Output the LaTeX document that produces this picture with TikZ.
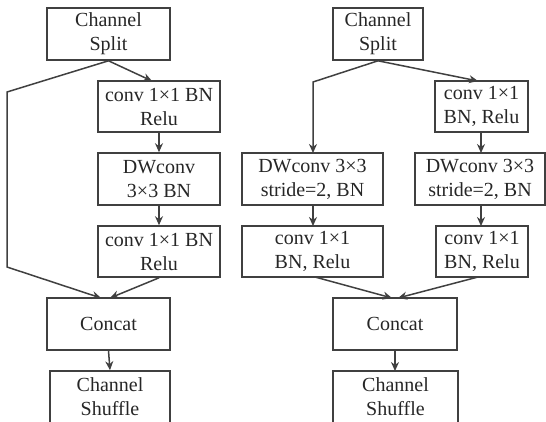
\documentclass[tikz,border=0pt]{standalone}
\usepackage{fontspec}
\setmainfont{Liberation Serif}
\usetikzlibrary{arrows.meta}
\definecolor{linec}{HTML}{404040}
\definecolor{textc}{HTML}{262626}
\tikzset{
  box/.style={draw=linec, line width=1.6pt, rectangle, inner sep=0pt, align=center,
    text=textc, font=\fontsize{20}{24}\selectfont},
  arr/.style={draw=linec, line width=1.5pt, -{Stealth[length=9pt,width=8pt]}},
  ln/.style={draw=linec, line width=1.5pt}
}
\begin{document}
\begin{tikzpicture}[x=1pt,y=-1pt]
\useasboundingbox (0,0) rectangle (546,421);
\clip (0,0) rectangle (546,421);
% left unit
\node[box, minimum width=123pt, minimum height=52pt] (ls) at (108.5,34) {Channel\\Split};
\node[box, minimum width=122pt, minimum height=51pt] (l1) at (159,106.5) {conv 1×1 BN\\Relu};
\node[box, minimum width=122pt, minimum height=52pt] (l2) at (159,179) {DWconv\\3×3 BN};
\node[box, minimum width=122pt, minimum height=51pt] (l3) at (159,251.5) {conv 1×1 BN\\Relu};
\node[box, minimum width=123pt, minimum height=52pt] (lc) at (108.5,324) {Concat};
\node[box, minimum width=120pt, minimum height=52pt] (lsh) at (110,397) {Channel\\Shuffle};
\coordinate (l1in) at (152,81);
\coordinate (lb1) at (7,92);
\coordinate (lb2) at (7,267);
\coordinate (lcin1) at (101,298);
\coordinate (lcin2) at (110,298);
\draw[arr] (ls.south) -- (l1in);
\draw[arr] (ls.south) -- (lb1) -- (lb2) -- (lcin1);
\draw[arr] (l1.south) -- (l2.north);
\draw[arr] (l2.south) -- (l3.north);
\draw[arr] (l3.south) -- (lcin2);
\draw[arr] (lc.south) -- (lsh.north);
% right unit
\node[box, minimum width=90pt, minimum height=52pt] (rs) at (378,34) {Channel\\Split};
\node[box, minimum width=93pt, minimum height=51pt] (r1) at (481.5,106.5) {conv 1×1\\BN, Relu};
\node[box, minimum width=141pt, minimum height=52pt] (rdl) at (312.5,179) {DWconv 3×3\\stride=2, BN};
\node[box, minimum width=130pt, minimum height=52pt] (rdr) at (480,179) {DWconv 3×3\\stride=2, BN};
\node[box, minimum width=141pt, minimum height=51pt] (rcl) at (312.5,251.5) {conv 1×1\\BN, Relu};
\node[box, minimum width=92pt, minimum height=51pt] (rcr) at (482,251.5) {conv 1×1\\BN, Relu};
\node[box, minimum width=124pt, minimum height=52pt] (rc) at (395,324) {Concat};
\node[box, minimum width=125pt, minimum height=52pt] (rsh) at (395.5,397) {Channel\\Shuffle};
\coordinate (rb1) at (313,82);
\coordinate (rdlin) at (313,153);
\coordinate (r1in) at (478,81);
\coordinate (rdrin) at (481,153);
\coordinate (r1out) at (481,132);
\coordinate (rdrout) at (481,205);
\coordinate (rcrin) at (481,226);
\coordinate (rdlout) at (313,205);
\coordinate (rclin) at (313,226);
\coordinate (rclout) at (315,277);
\coordinate (rcrout) at (478,277);
\coordinate (rcin1) at (392,298);
\coordinate (rcin2) at (398,298);
\coordinate (rcout) at (395,350);
\coordinate (rshin) at (395,371);
\draw[arr] (rs.south) -- (rb1) -- (rdlin);
\draw[arr] (rs.south) -- (r1in);
\draw[arr] (r1out) -- (rdrin);
\draw[arr] (rdlout) -- (rclin);
\draw[arr] (rdrout) -- (rcrin);
\draw[arr] (rclout) -- (rcin1);
\draw[arr] (rcrout) -- (rcin2);
\draw[arr] (rcout) -- (rshin);
\end{tikzpicture}
\end{document}
